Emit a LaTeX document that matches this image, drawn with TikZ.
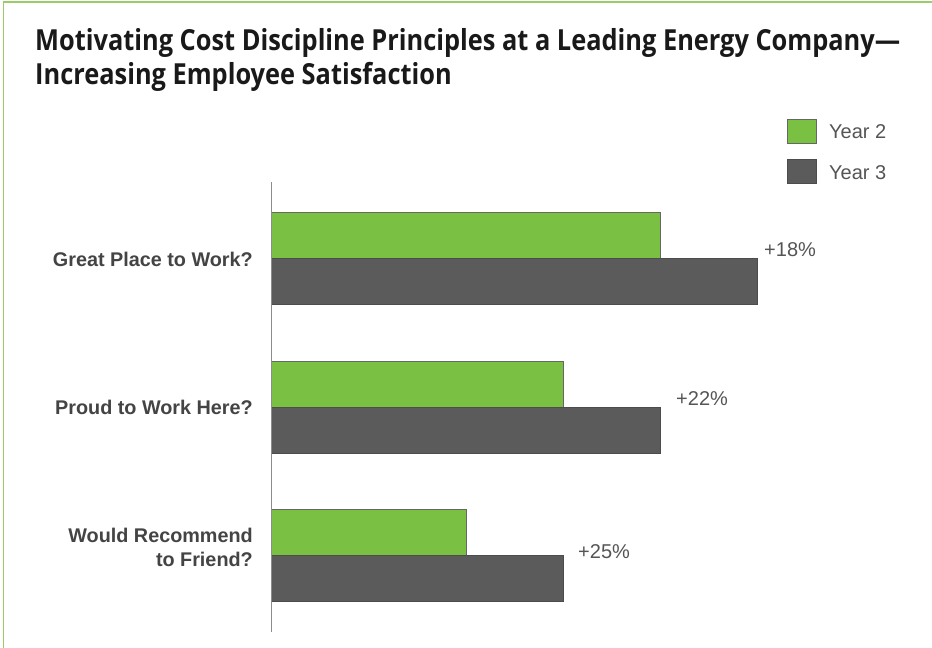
\documentclass[tikz,border=0pt]{standalone}
\usepackage{fontspec}
\setmainfont{Liberation Sans}
\newfontfamily\titlefont[FakeStretch=0.875]{Open Sans}
\definecolor{bargreen}{HTML}{7AC143}
\definecolor{bargray}{HTML}{5A5B5A}
\definecolor{framegreen}{HTML}{9ACD6A}
\definecolor{labgray}{HTML}{444444}
\definecolor{valgray}{HTML}{555555}
\tikzset{
  x=1pt,y=-1pt,
  greenbar/.style={fill=bargreen,draw=black!60,line width=0.6pt},
  graybar/.style={fill=bargray,draw=black!70,line width=0.6pt},
  catlabel/.style={anchor=east,align=right,font=\fontsize{19.8}{24}\selectfont\bfseries,text=labgray,inner sep=0pt},
  vallabel/.style={anchor=west,font=\fontsize{20}{22}\selectfont,text=valgray,inner sep=0pt},
  legtext/.style={anchor=west,font=\fontsize{20}{22}\selectfont,text=valgray,inner sep=0pt}
}
\begin{document}
\begin{tikzpicture}
\useasboundingbox (0,0) rectangle (932,648);
\fill[white] (0,0) rectangle (932,648);
% frame
\draw[framegreen,line width=1.8pt] (3.5,648) -- (3.5,2) -- (932,2);
% title
\node[anchor=base west,inner sep=0pt,font=\titlefont\bfseries\fontsize{29}{34}\selectfont,text=black!90,align=left] (title) at (35,84)
  {Motivating Cost Discipline Principles at a Leading Energy Company—\\Increasing Employee Satisfaction};
% legend
\node[greenbar,minimum width=29pt,minimum height=24pt,inner sep=0pt,anchor=north west] (lg2) at (787,119) {};
\node[graybar,minimum width=29pt,minimum height=24pt,inner sep=0pt,anchor=north west] (lg3) at (787,159) {};
\node[legtext] (ly2) at (829,132) {Year 2};
\node[legtext] (ly3) at (829,173) {Year 3};
% bars
\draw[greenbar] (271,212) rectangle (660,258);
\draw[graybar] (271,258) rectangle (757,304);
\draw[greenbar] (271,361) rectangle (563,407);
\draw[graybar] (271,407) rectangle (660,453);
\draw[greenbar] (271,509) rectangle (466,555);
\draw[graybar] (271,555) rectangle (563,601);
% axis
\coordinate (axtop) at (271,182);
\coordinate (axbot) at (271,632);
\draw[black!45,line width=0.8pt] (axtop) -- (axbot);
% value labels
\node[vallabel] (v1) at (764,250) {+18\%};
\node[vallabel] (v2) at (676,399) {+22\%};
\node[vallabel] (v3) at (578,552) {+25\%};
% category labels
\node[catlabel] (c1) at (253,259) {Great Place to Work?};
\node[catlabel] (c2) at (253,407) {Proud to Work Here?};
\node[catlabel] (c3) at (253,547) {Would Recommend\\to Friend?};
\end{tikzpicture}
\end{document}
